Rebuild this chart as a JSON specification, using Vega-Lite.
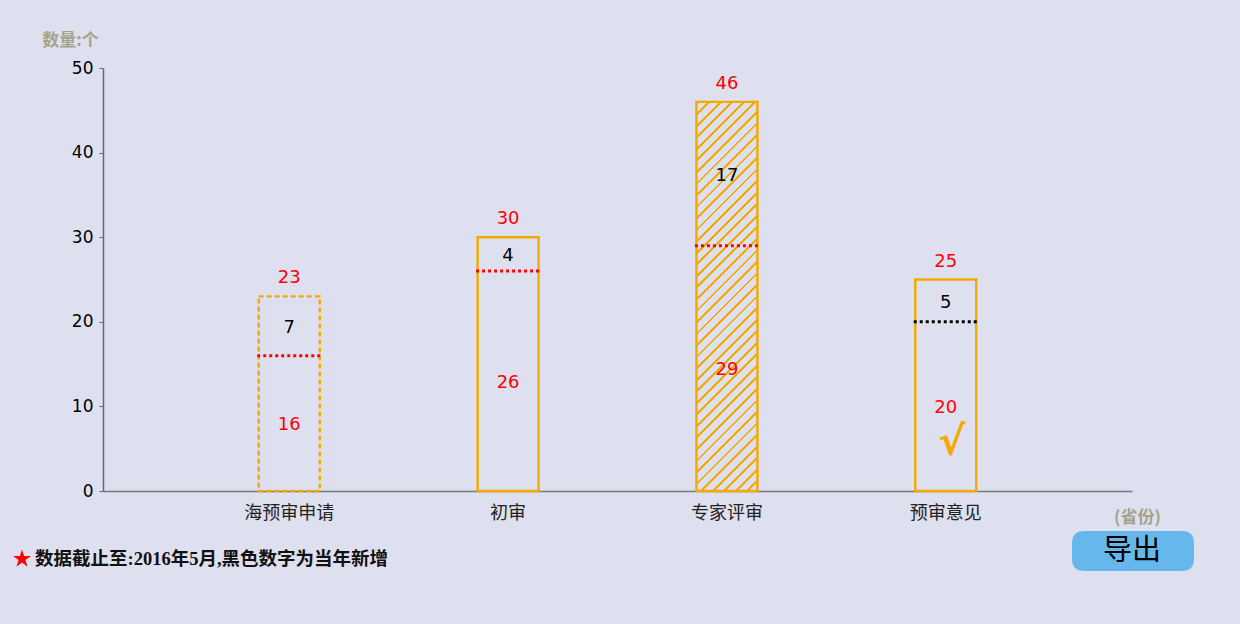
{
  "$schema": "https://vega.github.io/schema/vega-lite/v6.json",
  "autosize": {"type": "none"},
  "width": 1029,
  "height": 423,
  "padding": {"left": 103, "top": 68, "right": 108, "bottom": 133},
  "background": "#dee0ef",
  "data": {
    "values": [
      {"cat": "海预审申请", "seg": "old", "count": 16},
      {"cat": "海预审申请", "seg": "new", "count": 7},
      {"cat": "初审", "seg": "old", "count": 26},
      {"cat": "初审", "seg": "new", "count": 4},
      {"cat": "专家评审", "seg": "old", "count": 29},
      {"cat": "专家评审", "seg": "new", "count": 17},
      {"cat": "预审意见", "seg": "old", "count": 20},
      {"cat": "预审意见", "seg": "new", "count": 5}
    ]
  },
  "encoding": {
    "x": {
      "field": "cat",
      "type": "nominal",
      "sort": ["海预审申请", "初审", "专家评审", "预审意见"],
      "title": "(省份)",
      "scale": {"paddingInner": 0.7213, "paddingOuter": 0.7117, "round": false},
      "axis": {
        "labelAngle": 0,
        "ticks": false,
        "labelFontSize": 18,
        "labelFont": "Noto Sans CJK SC",
        "labelColor": "#222222",
        "labelPadding": 13,
        "domainColor": "#777777",
        "domainWidth": 1.5,
        "titleX": 1034,
        "titleY": 26,
        "titleAlign": "center",
        "titleBaseline": "middle",
        "titleColor": "#a5a289",
        "titleFont": "Noto Sans CJK SC",
        "titleFontSize": 17,
        "titleFontWeight": "bold"
      }
    }
  },
  "layer": [
    {
      "transform": [{"filter": "datum.cat === '专家评审'"}],
      "mark": {
        "type": "bar",
        "strokeWidth": 0,
        "fill": {
          "gradient": "linear",
          "x1": 0, "y1": 0, "x2": 0.177, "y2": 1.129,
          "stops": [
            {"offset": 0, "color": "#f2a900"}, {"offset": 0.00615, "color": "#f2a900"}, {"offset": 0.00615, "color": "rgba(242,169,0,0)"}, {"offset": 0.02564, "color": "rgba(242,169,0,0)"},
            {"offset": 0.02564, "color": "#f2a900"}, {"offset": 0.03179, "color": "#f2a900"}, {"offset": 0.03179, "color": "rgba(242,169,0,0)"}, {"offset": 0.05128, "color": "rgba(242,169,0,0)"},
            {"offset": 0.05128, "color": "#f2a900"}, {"offset": 0.05744, "color": "#f2a900"}, {"offset": 0.05744, "color": "rgba(242,169,0,0)"}, {"offset": 0.07692, "color": "rgba(242,169,0,0)"},
            {"offset": 0.07692, "color": "#f2a900"}, {"offset": 0.08308, "color": "#f2a900"}, {"offset": 0.08308, "color": "rgba(242,169,0,0)"}, {"offset": 0.10256, "color": "rgba(242,169,0,0)"},
            {"offset": 0.10256, "color": "#f2a900"}, {"offset": 0.10872, "color": "#f2a900"}, {"offset": 0.10872, "color": "rgba(242,169,0,0)"}, {"offset": 0.12821, "color": "rgba(242,169,0,0)"},
            {"offset": 0.12821, "color": "#f2a900"}, {"offset": 0.13436, "color": "#f2a900"}, {"offset": 0.13436, "color": "rgba(242,169,0,0)"}, {"offset": 0.15385, "color": "rgba(242,169,0,0)"},
            {"offset": 0.15385, "color": "#f2a900"}, {"offset": 0.16, "color": "#f2a900"}, {"offset": 0.16, "color": "rgba(242,169,0,0)"}, {"offset": 0.17949, "color": "rgba(242,169,0,0)"},
            {"offset": 0.17949, "color": "#f2a900"}, {"offset": 0.18564, "color": "#f2a900"}, {"offset": 0.18564, "color": "rgba(242,169,0,0)"}, {"offset": 0.20513, "color": "rgba(242,169,0,0)"},
            {"offset": 0.20513, "color": "#f2a900"}, {"offset": 0.21128, "color": "#f2a900"}, {"offset": 0.21128, "color": "rgba(242,169,0,0)"}, {"offset": 0.23077, "color": "rgba(242,169,0,0)"},
            {"offset": 0.23077, "color": "#f2a900"}, {"offset": 0.23692, "color": "#f2a900"}, {"offset": 0.23692, "color": "rgba(242,169,0,0)"}, {"offset": 0.25641, "color": "rgba(242,169,0,0)"},
            {"offset": 0.25641, "color": "#f2a900"}, {"offset": 0.26256, "color": "#f2a900"}, {"offset": 0.26256, "color": "rgba(242,169,0,0)"}, {"offset": 0.28205, "color": "rgba(242,169,0,0)"},
            {"offset": 0.28205, "color": "#f2a900"}, {"offset": 0.2882, "color": "#f2a900"}, {"offset": 0.2882, "color": "rgba(242,169,0,0)"}, {"offset": 0.30769, "color": "rgba(242,169,0,0)"},
            {"offset": 0.30769, "color": "#f2a900"}, {"offset": 0.31385, "color": "#f2a900"}, {"offset": 0.31385, "color": "rgba(242,169,0,0)"}, {"offset": 0.33333, "color": "rgba(242,169,0,0)"},
            {"offset": 0.33333, "color": "#f2a900"}, {"offset": 0.33949, "color": "#f2a900"}, {"offset": 0.33949, "color": "rgba(242,169,0,0)"}, {"offset": 0.35897, "color": "rgba(242,169,0,0)"},
            {"offset": 0.35897, "color": "#f2a900"}, {"offset": 0.36513, "color": "#f2a900"}, {"offset": 0.36513, "color": "rgba(242,169,0,0)"}, {"offset": 0.38462, "color": "rgba(242,169,0,0)"},
            {"offset": 0.38462, "color": "#f2a900"}, {"offset": 0.39077, "color": "#f2a900"}, {"offset": 0.39077, "color": "rgba(242,169,0,0)"}, {"offset": 0.41026, "color": "rgba(242,169,0,0)"},
            {"offset": 0.41026, "color": "#f2a900"}, {"offset": 0.41641, "color": "#f2a900"}, {"offset": 0.41641, "color": "rgba(242,169,0,0)"}, {"offset": 0.4359, "color": "rgba(242,169,0,0)"},
            {"offset": 0.4359, "color": "#f2a900"}, {"offset": 0.44205, "color": "#f2a900"}, {"offset": 0.44205, "color": "rgba(242,169,0,0)"}, {"offset": 0.46154, "color": "rgba(242,169,0,0)"},
            {"offset": 0.46154, "color": "#f2a900"}, {"offset": 0.46769, "color": "#f2a900"}, {"offset": 0.46769, "color": "rgba(242,169,0,0)"}, {"offset": 0.48718, "color": "rgba(242,169,0,0)"},
            {"offset": 0.48718, "color": "#f2a900"}, {"offset": 0.49333, "color": "#f2a900"}, {"offset": 0.49333, "color": "rgba(242,169,0,0)"}, {"offset": 0.51282, "color": "rgba(242,169,0,0)"},
            {"offset": 0.51282, "color": "#f2a900"}, {"offset": 0.51897, "color": "#f2a900"}, {"offset": 0.51897, "color": "rgba(242,169,0,0)"}, {"offset": 0.53846, "color": "rgba(242,169,0,0)"},
            {"offset": 0.53846, "color": "#f2a900"}, {"offset": 0.54462, "color": "#f2a900"}, {"offset": 0.54462, "color": "rgba(242,169,0,0)"}, {"offset": 0.5641, "color": "rgba(242,169,0,0)"},
            {"offset": 0.5641, "color": "#f2a900"}, {"offset": 0.57026, "color": "#f2a900"}, {"offset": 0.57026, "color": "rgba(242,169,0,0)"}, {"offset": 0.58974, "color": "rgba(242,169,0,0)"},
            {"offset": 0.58974, "color": "#f2a900"}, {"offset": 0.5959, "color": "#f2a900"}, {"offset": 0.5959, "color": "rgba(242,169,0,0)"}, {"offset": 0.61538, "color": "rgba(242,169,0,0)"},
            {"offset": 0.61538, "color": "#f2a900"}, {"offset": 0.62154, "color": "#f2a900"}, {"offset": 0.62154, "color": "rgba(242,169,0,0)"}, {"offset": 0.64103, "color": "rgba(242,169,0,0)"},
            {"offset": 0.64103, "color": "#f2a900"}, {"offset": 0.64718, "color": "#f2a900"}, {"offset": 0.64718, "color": "rgba(242,169,0,0)"}, {"offset": 0.66667, "color": "rgba(242,169,0,0)"},
            {"offset": 0.66667, "color": "#f2a900"}, {"offset": 0.67282, "color": "#f2a900"}, {"offset": 0.67282, "color": "rgba(242,169,0,0)"}, {"offset": 0.69231, "color": "rgba(242,169,0,0)"},
            {"offset": 0.69231, "color": "#f2a900"}, {"offset": 0.69846, "color": "#f2a900"}, {"offset": 0.69846, "color": "rgba(242,169,0,0)"}, {"offset": 0.71795, "color": "rgba(242,169,0,0)"},
            {"offset": 0.71795, "color": "#f2a900"}, {"offset": 0.7241, "color": "#f2a900"}, {"offset": 0.7241, "color": "rgba(242,169,0,0)"}, {"offset": 0.74359, "color": "rgba(242,169,0,0)"},
            {"offset": 0.74359, "color": "#f2a900"}, {"offset": 0.74974, "color": "#f2a900"}, {"offset": 0.74974, "color": "rgba(242,169,0,0)"}, {"offset": 0.76923, "color": "rgba(242,169,0,0)"},
            {"offset": 0.76923, "color": "#f2a900"}, {"offset": 0.77538, "color": "#f2a900"}, {"offset": 0.77538, "color": "rgba(242,169,0,0)"}, {"offset": 0.79487, "color": "rgba(242,169,0,0)"},
            {"offset": 0.79487, "color": "#f2a900"}, {"offset": 0.80103, "color": "#f2a900"}, {"offset": 0.80103, "color": "rgba(242,169,0,0)"}, {"offset": 0.82051, "color": "rgba(242,169,0,0)"},
            {"offset": 0.82051, "color": "#f2a900"}, {"offset": 0.82667, "color": "#f2a900"}, {"offset": 0.82667, "color": "rgba(242,169,0,0)"}, {"offset": 0.84615, "color": "rgba(242,169,0,0)"},
            {"offset": 0.84615, "color": "#f2a900"}, {"offset": 0.85231, "color": "#f2a900"}, {"offset": 0.85231, "color": "rgba(242,169,0,0)"}, {"offset": 0.87179, "color": "rgba(242,169,0,0)"},
            {"offset": 0.87179, "color": "#f2a900"}, {"offset": 0.87795, "color": "#f2a900"}, {"offset": 0.87795, "color": "rgba(242,169,0,0)"}, {"offset": 0.89744, "color": "rgba(242,169,0,0)"},
            {"offset": 0.89744, "color": "#f2a900"}, {"offset": 0.90359, "color": "#f2a900"}, {"offset": 0.90359, "color": "rgba(242,169,0,0)"}, {"offset": 0.92308, "color": "rgba(242,169,0,0)"},
            {"offset": 0.92308, "color": "#f2a900"}, {"offset": 0.92923, "color": "#f2a900"}, {"offset": 0.92923, "color": "rgba(242,169,0,0)"}, {"offset": 0.94872, "color": "rgba(242,169,0,0)"},
            {"offset": 0.94872, "color": "#f2a900"}, {"offset": 0.95487, "color": "#f2a900"}, {"offset": 0.95487, "color": "rgba(242,169,0,0)"}, {"offset": 0.97436, "color": "rgba(242,169,0,0)"},
            {"offset": 0.97436, "color": "#f2a900"}, {"offset": 0.98051, "color": "#f2a900"}, {"offset": 0.98051, "color": "rgba(242,169,0,0)"}, {"offset": 1, "color": "rgba(242,169,0,0)"}
          ]
        }
      },
      "encoding": {
        "y": {"aggregate": "sum", "field": "count", "type": "quantitative", "title": "数量:个", "scale": {"domain": [0, 50]}}
      }
    },
    {
      "mark": {"type": "bar", "fill": "transparent", "stroke": "#f2a900", "strokeWidth": 2.4},
      "encoding": {
        "y": {"aggregate": "sum", "field": "count", "type": "quantitative", "title": "数量:个", "scale": {"domain": [0, 50]}},
        "strokeDash": {"condition": {"test": "datum.cat === '海预审申请'", "value": [5, 3]}, "value": [1, 0]}
      }
    },
    {
      "transform": [{"filter": "datum.seg === 'old'"}],
      "mark": {"type": "rule", "strokeWidth": 3, "strokeDash": [3, 3], "xOffset": -32, "x2Offset": 32},
      "encoding": {
        "x2": {"field": "cat"},
        "y": {"field": "count", "type": "quantitative", "title": "数量:个", "scale": {"domain": [0, 50]}},
        "color": {"condition": {"test": "datum.cat === '预审意见'", "value": "#000000"}, "value": "#ff0000"}
      }
    },
    {
      "mark": {"type": "text", "font": "DejaVu Sans", "fontSize": 18, "baseline": "middle", "dy": 2},
      "encoding": {
        "y": {"field": "count", "type": "quantitative", "stack": "zero", "bandPosition": 0.5, "title": "数量:个", "scale": {"domain": [0, 50]}},
        "detail": {"field": "seg"},
        "order": {"field": "seg", "sort": "descending"},
        "text": {"field": "count", "type": "quantitative"},
        "color": {"condition": {"test": "datum.seg === 'new'", "value": "#000000"}, "value": "#ff0000"}
      }
    },
    {
      "mark": {"type": "text", "font": "DejaVu Sans", "fontSize": 18, "baseline": "middle", "dy": -18, "color": "#ff0000"},
      "encoding": {
        "y": {"aggregate": "sum", "field": "count", "type": "quantitative", "title": "数量:个", "scale": {"domain": [0, 50]}},
        "text": {"aggregate": "sum", "field": "count", "type": "quantitative"}
      }
    },
    {
      "transform": [{"filter": "datum.cat === '预审意见' && datum.seg === 'old'"}],
      "mark": {"type": "text", "text": "√", "font": "DejaVu Sans", "fontSize": 40, "fontWeight": "bold", "baseline": "middle", "dx": 6, "dy": 37, "color": "#f2a900"},
      "encoding": {
        "y": {"field": "count", "type": "quantitative", "stack": "zero", "bandPosition": 0.5, "title": "数量:个", "scale": {"domain": [0, 50]}}
      }
    },
    {
      "transform": [{"filter": "datum.cat === '预审意见' && datum.seg === 'old'"}],
      "mark": {"type": "point", "filled": true, "color": "#66b8ec", "opacity": 0},
      "encoding": {
        "y": {"field": "count", "type": "quantitative", "title": "数量:个", "scale": {"domain": [0, 50]}},
        "shape": {
          "datum": "导出",
          "scale": {"range": ["M-0.8,-0.328 L0.8,-0.328 Q1,-0.328 1,-0.128 L1,0.128 Q1,0.328 0.8,0.328 L-0.8,0.328 Q-1,0.328 -1,0.128 L-1,-0.128 Q-1,-0.328 -0.8,-0.328 Z"]},
          "legend": {
            "orient": "none",
            "legendX": 969,
            "legendY": 422,
            "title": null,
            "padding": 0,
            "symbolSize": 14884,
            "symbolOpacity": 1,
            "symbolFillColor": "#66b8ec",
            "symbolStrokeWidth": 0,
            "labelFont": "Noto Sans CJK SC",
            "labelFontSize": 29,
            "labelColor": "#000000",
            "labelOffset": -91,
            "labelBaseline": "middle",
            "labelLimit": 1000
          }
        }
      }
    },
    {
      "transform": [{"filter": "datum.cat === '预审意见' && datum.seg === 'old'"}],
      "mark": {"type": "point", "filled": true, "color": "#ff0000", "opacity": 0},
      "encoding": {
        "y": {"field": "count", "type": "quantitative", "title": "数量:个", "scale": {"domain": [0, 50]}},
        "shape": {
          "datum": "数据截止至:2016年5月,黑色数字为当年新增",
          "scale": {"range": ["M0,-1 L0.2245,-0.309 L0.951,-0.309 L0.3633,0.118 L0.588,0.809 L0,0.382 L-0.588,0.809 L-0.3633,0.118 L-0.951,-0.309 L-0.2245,-0.309 Z"]},
          "legend": {
            "orient": "none",
            "legendX": -90.5,
            "legendY": 481.5,
            "title": null,
            "padding": 0,
            "symbolSize": 360,
            "symbolOpacity": 1,
            "symbolFillColor": "#ff0000",
            "symbolStrokeWidth": 0,
            "labelFont": "Liberation Serif, Noto Sans CJK SC",
            "labelFontSize": 18.5,
            "labelFontWeight": "bold",
            "labelColor": "#111111",
            "labelOffset": 3.5,
            "labelBaseline": "middle",
            "labelLimit": 1000
          }
        }
      }
    }
  ],
  "resolve": {"scale": {"shape": "independent"}, "legend": {"shape": "independent"}},
  "config": {
    "view": {"stroke": null},
    "axisY": {
      "titleAngle": 0,
      "titleX": -33,
      "titleY": -28,
      "titleAlign": "center",
      "titleBaseline": "middle",
      "titleColor": "#a5a289",
      "titleFont": "Noto Sans CJK SC",
      "titleFontSize": 17,
      "titleFontWeight": "bold",
      "labelFont": "DejaVu Sans",
      "labelFontSize": 17,
      "labelColor": "#000000",
      "labelPadding": 6,
      "tickSize": 4,
      "tickColor": "#666666",
      "tickCount": 5,
      "domainColor": "#666666",
      "domainWidth": 1.5,
      "grid": false
    }
  }
}
